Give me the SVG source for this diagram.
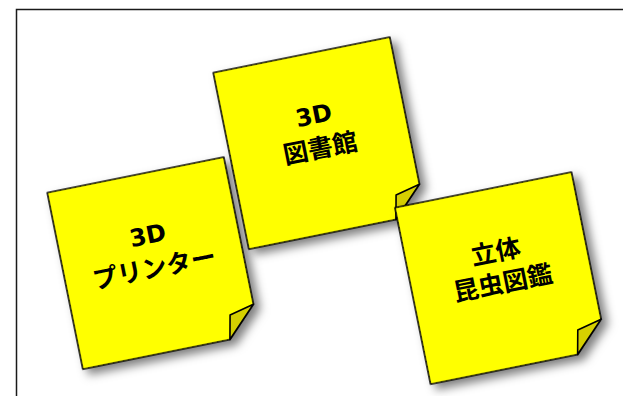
<svg xmlns="http://www.w3.org/2000/svg" width="623" height="396" viewBox="0 0 623 396">
  <defs>
    <filter id="shadow" x="-20%" y="-20%" width="150%" height="150%">
      <feDropShadow dx="5" dy="6" stdDeviation="5" flood-color="#000" flood-opacity="0.5"/>
    </filter>
  </defs>
  <style>
    .frame { fill: #ffffff; stroke: #1a1a1a; stroke-width: 1.5; }
    .sheet { fill: #ffff00; stroke: #000; stroke-width: 1.6; stroke-linejoin: round; }
    .flap { fill: #d6d000; stroke: #000; stroke-width: 1.6; stroke-linejoin: round; }
    .label { font-family: "Noto Sans CJK JP", "Noto Sans", sans-serif; font-weight: 700; font-size: 25px; fill: #000; text-anchor: middle; }
    .latin { font-family: "DejaVu Sans", "Noto Sans CJK JP", sans-serif; font-weight: 700; font-size: 24px; fill: #000; text-anchor: middle; }
  </style>
  <rect class="frame" x="16.5" y="9.5" width="620" height="400"/>
  <g id="connectors"/>
  <g id="note-printer" transform="translate(47.3,192.7) rotate(-11.4)">
    <g filter="url(#shadow)">
      <polygon class="sheet" points="0,0 180,0 180,150 150,180 0,180"/>
    </g>
    <polygon class="flap" points="180,150 150,180 155,156"/>
    <text class="latin" x="90" y="70">3D</text>
    <text class="label" x="90" y="104">プリンター</text>
  </g>
  <g id="note-library" transform="translate(213.3,72.7) rotate(-11.4)">
    <g filter="url(#shadow)">
      <polygon class="sheet" points="0,0 180,0 180,150 150,180 0,180"/>
    </g>
    <polygon class="flap" points="180,150 150,180 155,156"/>
    <text class="latin" x="90" y="70">3D</text>
    <text class="label" x="90" y="104">図書館</text>
  </g>
  <g id="note-insects" transform="translate(395,207.7) rotate(-11.4)">
    <g filter="url(#shadow)">
      <polygon class="sheet" points="0,0 180,0 180,150 150,180 0,180"/>
    </g>
    <polygon class="flap" points="180,150 150,180 155,156"/>
    <text class="label" x="90" y="72">立体</text>
    <text class="label" x="91" y="104">昆虫図鑑</text>
  </g>
</svg>
